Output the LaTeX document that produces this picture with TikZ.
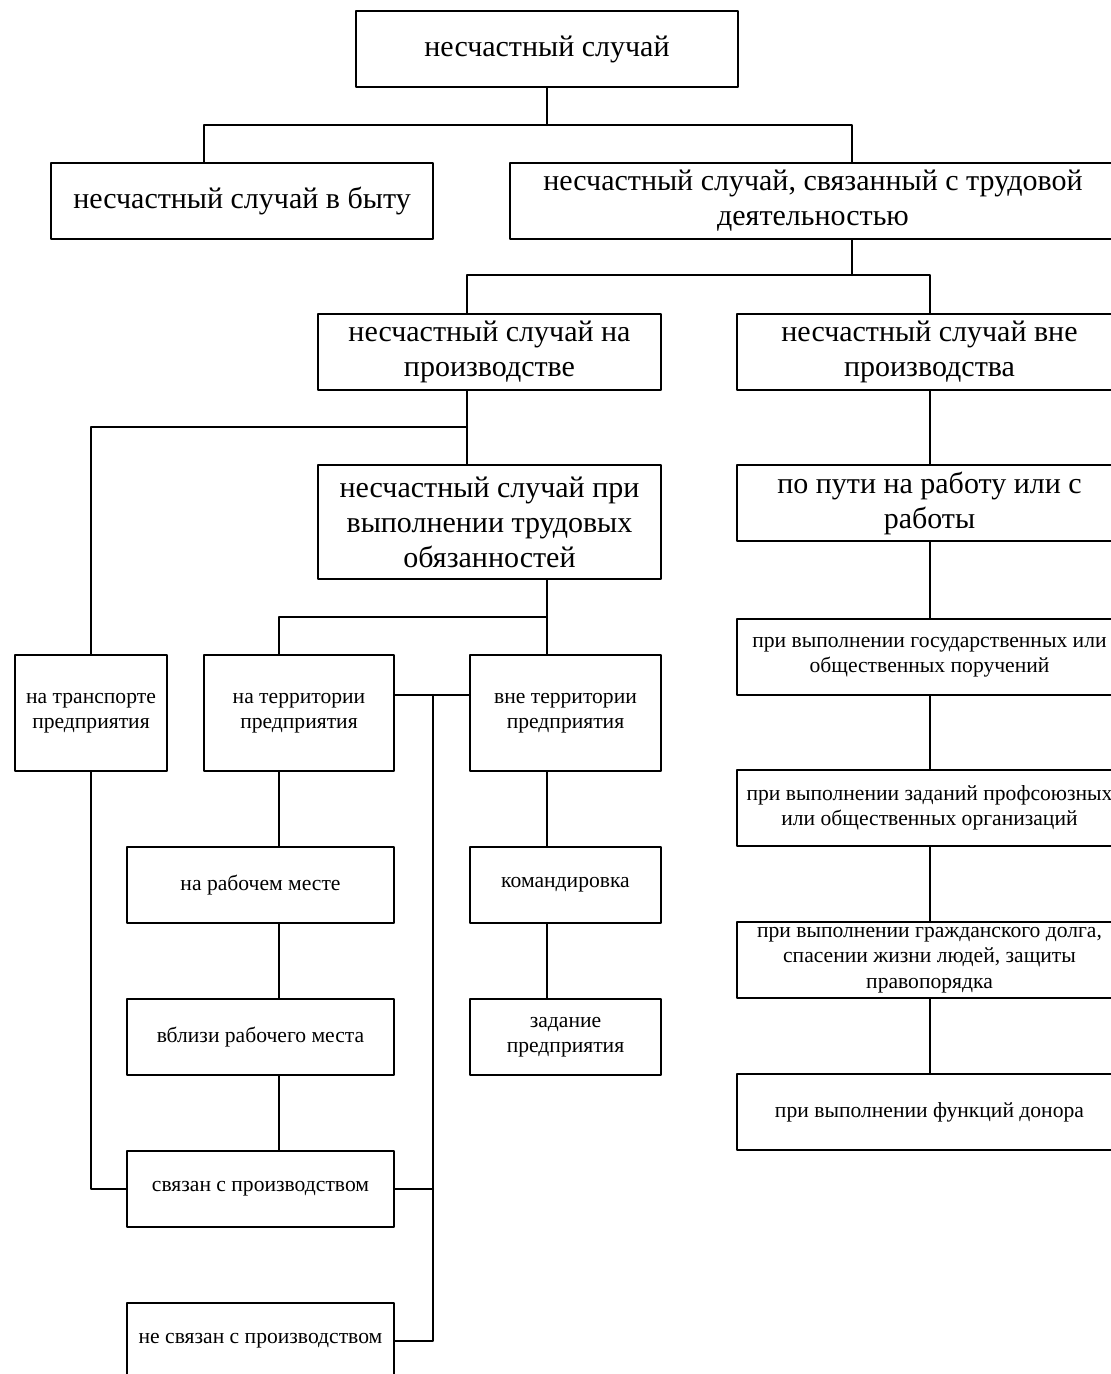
\documentclass[tikz,border=0pt]{standalone}
\usepackage{fontspec}
\setmainfont{Liberation Serif}
\usepackage{tikz}

\begin{document}
\begin{tikzpicture}[line cap=round,line join=round,x=0.5pt,y=-0.5pt,line width=1.1pt,
        box/.style={rectangle, draw, align=center, inner sep=1pt, minimum height=38pt},
        big/.style={box, font=\fontsize{15}{17.5}\selectfont},
        small/.style={box, font=\fontsize{10.8}{12.6}\selectfont}]
                    \useasboundingbox (0,0) rectangle (1111,1374);

                    \node[big, minimum width=191pt] (1) at (547,49) {несчастный случай};
                    \node[big, minimum width=191pt] (2) at (242,201) {несчастный случай в быту};
                    \node[big, minimum width=303pt] (3) at (813,201) {несчастный случай, связанный с трудовой\\деятельностью};
                    \node[big, minimum width=171.5pt] (4) at (489.5,352) {несчастный случай на\\производстве};
                    \node[big, minimum width=192.5pt] (5) at (929.5,352) {несчастный случай вне\\производства};
                    \node[big, minimum width=171.5pt, minimum height=57pt] (6) at (489.5,522) {несчастный случай при\\выполнении трудовых\\обязанностей};
                    \node[big, minimum width=192.5pt] (7) at (929.5,503) {по пути на работу или с\\работы};

                    \node[small, minimum width=76pt, minimum height=58pt] (8) at (91,713) {на транспорте\\предприятия};
                    \node[small, minimum width=95pt, minimum height=58pt] (9) at (299,713) {на территории\\предприятия};
                    \node[small, minimum width=95.5pt, minimum height=58pt] (10) at (565.5,713) {вне территории\\предприятия};

                    \node[small, minimum width=133.5pt] (11) at (260.5,885) {на рабочем месте};
                    \node[small, minimum width=133.5pt] (12) at (260.5,1037) {вблизи рабочего места};
                    \node[small, minimum width=133.5pt] (13) at (260.5,1189) {связан с производством};
                    \node[small, minimum width=133.5pt] (14) at (260.5,1341) {не связан с производством};
                    \node[small, minimum width=95.5pt] (15) at (565.5,885) {командировка};
                    \node[small, minimum width=95.5pt] (16) at (565.5,1037) {задание\\предприятия};

                    \node[small, minimum width=192.5pt] (17) at (929.5,657) {при выполнении государственных или\\общественных поручений};
                    \node[small, minimum width=192.5pt] (18) at (929.5,808) {при выполнении заданий профсоюзных\\или общественных организаций};
                    \node[small, minimum width=192.5pt] (19) at (929.5,960) {при выполнении гражданского долга,\\спасении жизни людей, защиты\\правопорядка};
                    \node[small, minimum width=192.5pt] (20) at (929.5,1112) {при выполнении функций донора};

                    % buses
                    \coordinate (b1l) at (204,125);
                    \coordinate (b1r) at (852,125);
                    \coordinate (b2l) at (467,275);
                    \coordinate (b2r) at (930,275);
                    \coordinate (b3) at (91,427);
                    \coordinate (b4l) at (279,617);
                    \coordinate (b4r) at (547,617);
                    \coordinate (b5) at (433,695);

                    \draw (1.south) -- (1.south |- b1l);
                    \draw (2.north -| b1l) |- (b1r) -- (3.north -| b1r);
                    \draw (3.south -| b1r) -- (b1r |- b2l);
                    \draw (4.north -| b2l) |- (b2r) -- (5.north -| b2r);
                    \draw (4.south -| b2l) -- (6.north -| b2l);
                    \draw (b3 -| b2l) -| (8.north);
                    \draw (6.south -| b4r) -- (b4r);
                    \draw (9.north -| b4l) |- (b4r) -- (10.north -| b4r);

                    \draw (9.east |- b5) -- (10.west |- b5);
                    \draw (b5) |- (14.east);
                    \draw (13.east) -- (13.east -| b5);
                    \draw (8.south) |- (13.west);

                    \draw (9.south -| b4l) -- (11.north -| b4l);
                    \draw (11.south -| b4l) -- (12.north -| b4l);
                    \draw (12.south -| b4l) -- (13.north -| b4l);
                    \draw (10.south -| b4r) -- (15.north -| b4r);
                    \draw (15.south -| b4r) -- (16.north -| b4r);

                    \draw (5.south -| b2r) -- (7.north -| b2r);
                    \draw (7.south -| b2r) -- (17.north -| b2r);
                    \draw (17.south -| b2r) -- (18.north -| b2r);
                    \draw (18.south -| b2r) -- (19.north -| b2r);
                    \draw (19.south -| b2r) -- (20.north -| b2r);
                \end{tikzpicture}
\end{document}
